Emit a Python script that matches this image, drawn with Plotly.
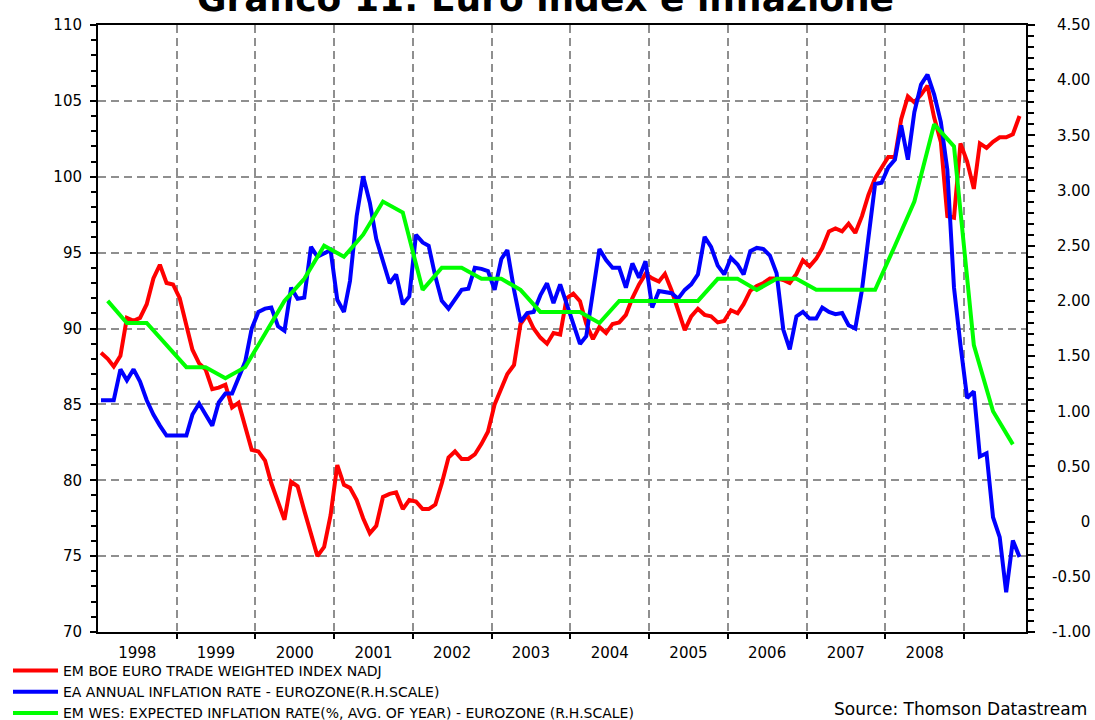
import pandas as pd
import plotly.graph_objects as go

# ---------------- data ----------------
title_text = "Grafico 11: Euro index e inflazione"
source_text = "Source: Thomson Datastream"

series_names = [
    "EM BOE EURO TRADE WEIGHTED INDEX NADJ",
    "EA ANNUAL INFLATION RATE - EUROZONE(R.H.SCALE)",
    "EM WES: EXPECTED INFLATION RATE(%, AVG. OF YEAR) - EUROZONE (R.H.SCALE)",
]

# monthly, Jan 1998 .. Sep 2009 (left scale)
euro_index = [
    88.4, 88.0, 87.5, 88.2, 90.7, 90.5, 90.7, 91.6, 93.3, 94.2, 93.0, 92.9,
    92.0, 90.1, 88.6, 87.7, 87.3, 86.0, 86.1, 86.3, 84.8, 85.1, 83.5, 82.0,
    81.9, 81.3, 79.8, 78.5, 77.4, 79.9, 79.6, 78.0, 76.4, 75.0, 75.6, 77.7,
    81.0, 79.7, 79.5, 78.7, 77.5, 76.5, 77.0, 78.9, 79.1, 79.2, 78.1, 78.7,
    78.6, 78.1, 78.1, 78.4, 79.8, 81.5, 81.9, 81.4, 81.4, 81.7, 82.4, 83.2,
    85.0, 86.1, 87.0, 87.6, 90.3, 90.9, 90.0, 89.4, 89.0, 89.7, 89.6, 92.0,
    92.3, 91.8, 90.3, 89.3, 90.1, 89.7, 90.3, 90.4, 90.9, 92.0, 92.9, 93.6,
    93.3, 93.1, 93.6, 92.5, 91.2, 89.9, 90.8, 91.3, 90.9, 90.8, 90.4, 90.5,
    91.2, 91.0, 91.6, 92.5, 92.8, 93.0, 93.3, 93.3, 93.2, 93.0, 93.6, 94.5,
    94.1, 94.6, 95.3, 96.4, 96.6, 96.4, 96.9, 96.3, 97.4, 98.8, 99.9, 100.6,
    101.3, 101.3, 103.8, 105.3, 104.9, 105.4, 106.0, 103.9, 102.3, 97.4, 97.3, 102.2,
    101.0, 99.2, 102.2, 101.9, 102.3, 102.6, 102.6, 102.8, 104.0,
]

# monthly, Jan 1998 .. Sep 2009 (right scale)
inflation = [
    1.10, 1.10, 1.10, 1.38, 1.28, 1.38, 1.27, 1.10, 0.97, 0.87, 0.78, 0.78,
    0.78, 0.78, 0.97, 1.07, 0.97, 0.87, 1.08, 1.16, 1.16, 1.31, 1.45, 1.75,
    1.90, 1.93, 1.94, 1.77, 1.73, 2.12, 2.02, 2.03, 2.49, 2.40, 2.43, 2.46,
    2.01, 1.90, 2.18, 2.77, 3.13, 2.89, 2.56, 2.35, 2.16, 2.24, 1.97, 2.04,
    2.60, 2.53, 2.50, 2.22, 2.00, 1.93, 2.02, 2.10, 2.11, 2.30, 2.29, 2.27,
    2.10, 2.38, 2.46, 2.10, 1.81, 1.89, 1.90, 2.05, 2.16, 1.98, 2.15, 1.97,
    1.78, 1.61, 1.68, 2.10, 2.47, 2.37, 2.30, 2.30, 2.12, 2.34, 2.21, 2.36,
    1.94, 2.09, 2.08, 2.07, 2.02, 2.10, 2.15, 2.24, 2.58, 2.49, 2.32, 2.24,
    2.39, 2.33, 2.24, 2.45, 2.48, 2.47, 2.41, 2.25, 1.74, 1.56, 1.86, 1.90,
    1.84, 1.84, 1.94, 1.90, 1.88, 1.89, 1.78, 1.75, 2.10, 2.56, 3.06, 3.07,
    3.21, 3.28, 3.59, 3.28, 3.71, 3.96, 4.05, 3.87, 3.62, 3.19, 2.12, 1.60,
    1.12, 1.18, 0.59, 0.62, 0.04, -0.14, -0.64, -0.17, -0.32,
]

# quarterly, 1998Q1 .. 2009Q3 (right scale)
expected_inflation = [
    2.0, 1.8, 1.8, 1.6, 1.4, 1.4, 1.3, 1.4, 1.7, 2.0, 2.2, 2.5,
    2.4, 2.6, 2.9, 2.8, 2.1, 2.3, 2.3, 2.2, 2.2, 2.1, 1.9, 1.9,
    1.9, 1.8, 2.0, 2.0, 2.0, 2.0, 2.0, 2.2, 2.2, 2.1, 2.2, 2.2,
    2.1, 2.1, 2.1, 2.1, 2.5, 2.9, 3.6, 3.4, 1.6, 1.0, 0.7,
]

year_labels = ["1998", "1999", "2000", "2001", "2002", "2003",
               "2004", "2005", "2006", "2007", "2008"]
grid_years = ["1999", "2000", "2001", "2002", "2003", "2004",
              "2005", "2006", "2007", "2008", "2009"]
left_ticks = [70, 75, 80, 85, 90, 95, 100, 105, 110]
right_ticks = [-1.0, -0.5, 0.0, 0.5, 1.0, 1.5, 2.0, 2.5, 3.0, 3.5, 4.0, 4.5]
right_tick_labels = ["-1.00", "-0.50", "0", "0.50", "1.00", "1.50", "2.00",
                     "2.50", "3.00", "3.50", "4.00", "4.50"]

# ---------------- helpers ----------------
monthly_dates = pd.date_range("1998-01-01", periods=len(euro_index), freq="MS") + pd.Timedelta(days=14)
quarterly_dates = pd.date_range("1998-02-01", periods=len(expected_inflation), freq="3MS") + pd.Timedelta(days=14)


def pad_right(label):
    # right-align the right-hand tick labels using fixed-width spaces
    out = label
    if label == "0":
        out = "\u2007\u2007\u2008" + out
    if not label.startswith("-"):
        out = "\u2004" + out
    return out


W, H = 1095, 720
ML, MR, MT, MB = 98, 69, 25, 88
PW, PH = W - ML - MR, H - MT - MB


def px_x(x):
    return (x - ML) / PW


def px_y(y):
    return (H - MB - y) / PH


FONT = "DejaVu Sans"
GRID = "#8f8f8f"
DASH = "8px,5px"

fig = go.Figure()
fig.add_trace(go.Scatter(x=monthly_dates, y=euro_index, name=series_names[0],
                         mode="lines", line=dict(color="#ff0000", width=4), yaxis="y"))
fig.add_trace(go.Scatter(x=monthly_dates, y=inflation, name=series_names[1],
                         mode="lines", line=dict(color="#0000ff", width=4), yaxis="y2"))
fig.add_trace(go.Scatter(x=quarterly_dates, y=expected_inflation, name=series_names[2],
                         mode="lines", line=dict(color="#00ff00", width=4), yaxis="y2"))

fig.update_layout(
    width=W, height=H,
    margin=dict(l=ML, r=MR, t=MT, b=MB, pad=0, autoexpand=False),
    paper_bgcolor="white", plot_bgcolor="white",
    font=dict(family=FONT, size=15, color="black"),
    showlegend=True,
    legend=dict(x=px_x(8), y=px_y(655), xanchor="left", yanchor="top",
                font=dict(family=FONT, size=14, color="black"),
                bgcolor="rgba(0,0,0,0)", itemwidth=45, tracegroupgap=0,
                traceorder="normal"),
    xaxis=dict(
        type="date", range=["1998-01-01", "2009-10-15"], automargin=False,
        tickmode="array", tickvals=[f"{y}-07-02" for y in year_labels], ticktext=year_labels,
        ticks="", showgrid=False, zeroline=False,
        showline=True, linecolor="black", linewidth=2, mirror=True,
        tickfont=dict(family=FONT, size=15, color="black"), ticklabelstandoff=6,
        minor=dict(tickmode="array", tickvals=[f"{y}-01-01" for y in grid_years],
                   ticks="outside", ticklen=5, tickwidth=1.5, tickcolor="black",
                   showgrid=True, gridcolor=GRID, gridwidth=1.5, griddash=DASH),
    ),
    yaxis=dict(
        range=[70, 110], tickmode="array", tickvals=left_ticks, automargin=False,
        ticks="outside", ticklen=6, tickwidth=1.5, tickcolor="black",
        showline=True, linecolor="black", linewidth=2,
        showgrid=True, gridcolor=GRID, gridwidth=1.5, griddash=DASH, zeroline=False,
        tickfont=dict(family=FONT, size=15, color="black"), ticklabelstandoff=5,
        minor=dict(tickmode="linear", tick0=70, dtick=1, ticks="outside", ticklen=5,
                   tickwidth=1.5, tickcolor="black", showgrid=False),
    ),
    yaxis2=dict(
        overlaying="y", side="right", range=[-1, 4.5], automargin=False,
        tickmode="array", tickvals=right_ticks,
        ticktext=[pad_right(t) for t in right_tick_labels],
        ticks="outside", ticklen=7, tickwidth=1.5, tickcolor="black",
        showline=True, linecolor="black", linewidth=2,
        showgrid=False, zeroline=False,
        tickfont=dict(family=FONT, size=15, color="black"), ticklabelstandoff=14,
        minor=dict(tickmode="linear", tick0=-1, dtick=0.1, ticks="outside", ticklen=6,
                   tickwidth=1.5, tickcolor="black", showgrid=False),
    ),
    annotations=[
        dict(text=title_text, xref="paper", yref="paper", x=px_x(545), y=1,
             xanchor="center", yanchor="bottom", yshift=4, showarrow=False,
             font=dict(family=FONT, size=36, color="black", weight="bold")),
        dict(text=source_text, xref="paper", yref="paper", x=px_x(1089), y=px_y(709),
             xanchor="right", yanchor="middle", showarrow=False,
             font=dict(family=FONT, size=17, color="black")),
    ],
)

fig.write_html("out.html", config={"displayModeBar": False},
               post_script="document.body.style.margin='0';")
